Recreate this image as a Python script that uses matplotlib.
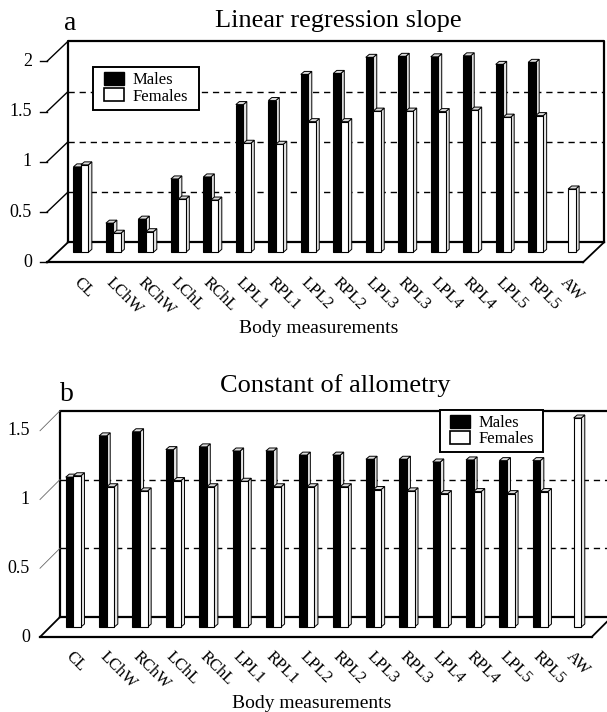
import numpy as np
import matplotlib
matplotlib.use('Agg')
import matplotlib.pyplot as plt
from matplotlib.patches import Polygon, Patch, Rectangle

# ---------------- data ----------------
categories = ['CL', 'LChW', 'RChW', 'LChL', 'RChL', 'LPL1', 'RPL1', 'LPL2',
              'RPL2', 'LPL3', 'RPL3', 'LPL4', 'RPL4', 'LPL5', 'RPL5', 'AW']
series_names = ['Males', 'Females']

slope_males = [0.85, 0.29, 0.33, 0.73, 0.75, 1.47, 1.51, 1.77, 1.78, 1.94,
               1.95, 1.945, 1.955, 1.87, 1.89, np.nan]
slope_females = [0.87, 0.19, 0.205, 0.53, 0.52, 1.085, 1.075, 1.30, 1.30,
                 1.405, 1.405, 1.40, 1.415, 1.345, 1.36, 0.63]
slope_ticks = [0, 0.5, 1, 1.5, 2]
slope_tick_labels = ['0', '0.5', '1', '1.5', '2']

allom_males = [1.09, 1.39, 1.42, 1.29, 1.31, 1.28, 1.28, 1.25, 1.25, 1.22,
               1.22, 1.20, 1.215, 1.21, 1.21, np.nan]
allom_females = [1.10, 1.02, 0.99, 1.065, 1.02, 1.06, 1.02, 1.02, 1.02,
                 1.00, 0.99, 0.97, 0.985, 0.97, 0.985, 1.52]
allom_ticks = [0, 0.5, 1, 1.5]
allom_tick_labels = ['0', '0.5', '1', '1.5']

# ---------------- figure ----------------
W, H = 607, 712
plt.rcParams['font.family'] = ['Liberation Serif', 'DejaVu Serif']
fig = plt.figure(figsize=(W / 100, H / 100), dpi=100)


def fig_rect(x0, y0, x1, y1):
    """pixel box (top-left origin) -> figure fraction rect"""
    return (x0 / W, 1 - y1 / H, (x1 - x0) / W, (y1 - y0) / H)


def panel(plane_px, xlim, ticks, tick_labels, males, females, depth_px,
          bw, heavy_diag, tick_marks, legend_box, label_gap):
    left, right, y0px, ytop_px = plane_px
    ylim = (ticks[0], ticks[-1])
    ax = fig.add_axes([left / W, 1 - y0px / H, (right - left) / W,
                       (y0px - ytop_px) / H])
    ax.set_xlim(xlim)
    ax.set_ylim(ylim)
    ax.axis('off')
    sx = (right - left) / (xlim[1] - xlim[0])
    sy = (y0px - ytop_px) / (ylim[1] - ylim[0])
    dX = depth_px[0] / sx
    dY = depth_px[1] / sy
    x0, x1 = xlim
    ymax = ylim[1]
    kw = dict(clip_on=False, solid_capstyle='projecting')
    # back wall
    ax.plot([x0 + dX, x0 + dX, x1 + dX, x1 + dX],
            [dY, ymax + dY, ymax + dY, dY], color='black', lw=1.6, zorder=2, **kw)
    ax.plot([x0 + dX, x1 + dX], [dY, dY], color='black', lw=1.6, zorder=2, **kw)
    # front floor edge
    ax.plot([x0 - dX, x1 - dX], [-dY, -dY], color='black', lw=1.6, zorder=2, **kw)
    # floor diagonals
    ax.plot([x0 - dX, x0 + dX], [-dY, dY], color='black', lw=1.3, zorder=2, **kw)
    ax.plot([x1 - dX, x1 + dX], [-dY, dY], color='black', lw=1.3, zorder=2, **kw)
    # gridlines + side wall diagonals + tick labels
    for t, lab in zip(ticks, tick_labels):
        if 0 < t < ymax:
            ax.plot([x0 + dX, x1 + dX], [t + dY, t + dY], color='black',
                    lw=1.0, ls=(0, (4.5, 3.5)), zorder=1, clip_on=False)
        if t > 0:
            if heavy_diag:
                ax.plot([x0 - dX, x0 + dX], [t - dY, t + dY], color='black',
                        lw=1.0, zorder=2, **kw)
            else:
                ax.plot([x0 - dX, x0 + dX], [t - dY, t + dY], color='#666666',
                        lw=0.6, zorder=2, **kw)
        if tick_marks:
            ax.plot([x0 - dX - 7 / sx, x0 - dX], [t - dY, t - dY], color='black',
                    lw=1.0, zorder=2, clip_on=False)
        ax.annotate(lab, xy=(x0, t), xytext=(-depth_px[0] - label_gap, -depth_px[1]),
                    textcoords='offset pixels', ha='right', va='center',
                    fontsize=13, annotation_clip=False)

    # bars (front faces through ax.bar, then 3D top/side faces)
    idx = np.arange(len(categories))
    ddx = 3.5 / sx
    ddy = 3.0 / sy
    specs = [(idx - bw, males, 'black', 3), (idx, females, 'white', 6)]
    for xs, vals, col, z in specs:
        ax.bar(xs, vals, width=bw, align='edge', color=col, edgecolor='black',
               linewidth=0.8, zorder=z + 1, clip_on=False)
        for xl, v in zip(xs, vals):
            if np.isnan(v):
                continue
            xr = xl + bw
            side = Polygon([(xr, 0), (xr, v), (xr + ddx, v + ddy), (xr + ddx, ddy)],
                           closed=True, facecolor='#e6e6e6', edgecolor='black',
                           lw=0.7, zorder=z, clip_on=False)
            top = Polygon([(xl, v), (xr, v), (xr + ddx, v + ddy), (xl + ddx, v + ddy)],
                          closed=True, facecolor='#dcdcdc', edgecolor='black',
                          lw=0.7, zorder=z, clip_on=False)
            ax.add_patch(side)
            ax.add_patch(top)

    # category labels
    for i, c in enumerate(categories):
        ax.annotate(c, xy=(i, 0), xytext=(-depth_px[0] + 11, -depth_px[1] - 12),
                    textcoords='offset pixels', rotation=-45,
                    rotation_mode='anchor', ha='left', va='top', fontsize=12,
                    annotation_clip=False)

    # legend: frame drawn as a box, entries by the legend machinery
    bx0, by0, bx1, by1 = legend_box
    frame = Rectangle(fig_rect(bx0, by0, bx1, by1)[:2],
                      (bx1 - bx0) / W, (by1 - by0) / H,
                      transform=fig.transFigure, facecolor='white',
                      edgecolor='black', lw=1.4, zorder=19)
    fig.add_artist(frame)
    handles = [Patch(facecolor='black', edgecolor='black', lw=1.0),
               Patch(facecolor='white', edgecolor='black', lw=1.2)]
    leg = fig.legend(handles, series_names, loc='center',
                     bbox_to_anchor=((bx0 + bx1) / 2 / W, 1 - (by0 + by1) / 2 / H),
                     bbox_transform=fig.transFigure, borderaxespad=0,
                     fontsize=12, frameon=False,
                     handlelength=1.2, handleheight=0.82, handletextpad=0.5,
                     labelspacing=0.0, borderpad=0.0)
    leg.set_zorder(20)
    return ax


# panel a
panel(plane_px=(57.5, 593.5, 252.3, 51.3), xlim=(-0.72, 15.78),
      ticks=slope_ticks, tick_labels=slope_tick_labels,
      males=slope_males, females=slope_females, depth_px=(10.5, 10),
      bw=0.23, heavy_diag=True, tick_marks=True,
      legend_box=(93.3, 66.7, 199.3, 110.0), label_gap=15)
# panel b
panel(plane_px=(50.0, 601.7, 627.0, 420.75), xlim=(-0.70, 15.84),
      ticks=allom_ticks, tick_labels=allom_tick_labels,
      males=allom_males, females=allom_females, depth_px=(10, 10),
      bw=0.228, heavy_diag=False, tick_marks=False,
      legend_box=(440.0, 410.0, 543.3, 451.7), label_gap=10)

fig.text(338 / W, 1 - 27 / H, 'Linear regression slope', ha='center',
         va='baseline', fontsize=19)
fig.text(64 / W, 1 - 30 / H, 'a', ha='left', va='baseline', fontsize=20)
fig.text(319 / W, 1 - 333 / H, 'Body measurements', ha='center',
         va='baseline', fontsize=14)

fig.text(335 / W, 1 - 392 / H, 'Constant of allometry', ha='center',
         va='baseline', fontsize=19)
fig.text(60 / W, 1 - 401 / H, 'b', ha='left', va='baseline', fontsize=20)
fig.text(312 / W, 1 - 708 / H, 'Body measurements', ha='center',
         va='baseline', fontsize=14)

fig.savefig('out.png', dpi=100, facecolor='white')
